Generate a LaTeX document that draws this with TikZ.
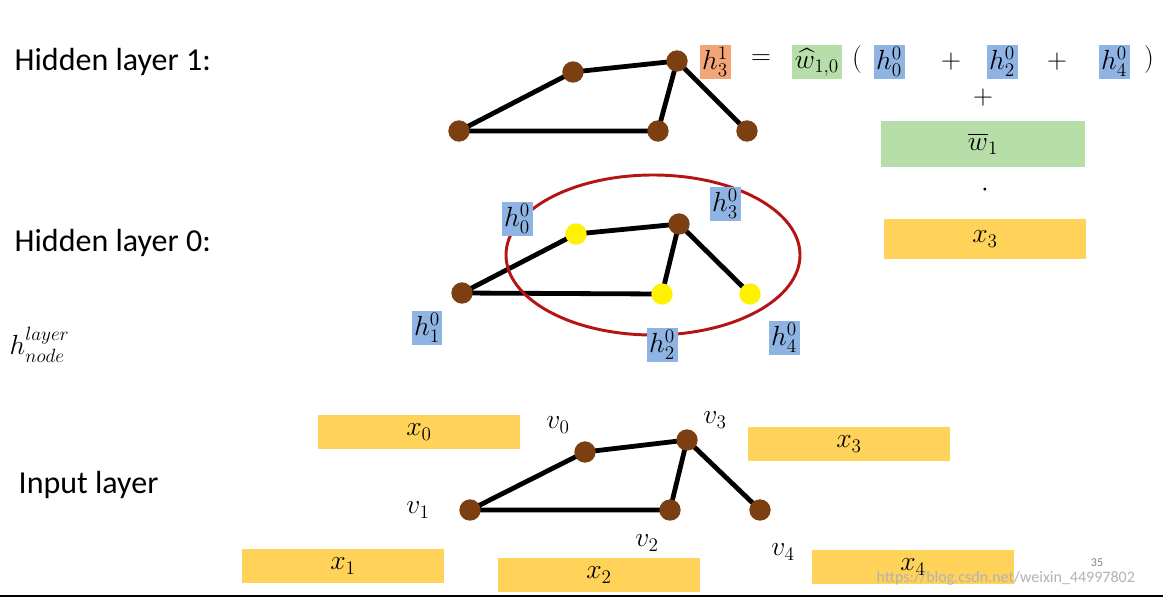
\documentclass[tikz,border=0pt]{standalone}
\usepackage{fontspec}
\setmainfont{Carlito}
\usepackage{amsmath}
\definecolor{nbrown}{RGB}{123,63,18}
\definecolor{ered}{RGB}{180,20,20}
\definecolor{bbox}{RGB}{143,180,227}
\definecolor{obox}{RGB}{244,165,120}
\definecolor{ybox}{RGB}{255,210,90}
\definecolor{gbox}{RGB}{183,221,168}
\begin{document}
\begin{tikzpicture}[x=0.75pt,y=-0.75pt,
  br/.style={circle,fill=nbrown,minimum size=16pt,inner sep=0pt},
  yl/.style={circle,fill=yellow,minimum size=16pt,inner sep=0pt},
  ed/.style={line width=3.6pt},
  bl/.style={fill=bbox,inner sep=2pt,font=\fontsize{22}{24}\selectfont},
  lbl/.style={font=\fontsize{24}{28}\selectfont,anchor=west},
  mt/.style={font=\fontsize{22}{24}\selectfont},
  yb/.style={fill=ybox,minimum width=152pt,minimum height=26pt,font=\fontsize{22}{24}\selectfont},
  gb/.style={fill=gbox}]
\useasboundingbox (0,0) rectangle (1163,597);
\fill[white] (0,0) rectangle (1163,597);
% labels
\node[lbl] (l1) at (10,62) {Hidden layer 1:};
\node[lbl] (l0) at (10,243) {Hidden layer 0:};
\node[lbl] (li) at (14,485) {Input layer};
\node[mt,anchor=west] (lh) at (5,345) {$h_{node}^{layer}$};
% layer 1
\coordinate (a0) at (573,72); \coordinate (a3) at (677,61); \coordinate (a1) at (459,131);
\coordinate (a2) at (658,131); \coordinate (a4) at (747,131);
\draw[ed] (a1)--(a0) (a0)--(a3) (a3)--(a2) (a3)--(a4) (a1)--(a2);
\node[br] (m0) at (a0) {}; \node[br] (m3) at (a3) {}; \node[br] (m1) at (a1) {};
\node[br] (m2) at (a2) {}; \node[br] (m4) at (a4) {};
% layer 0
\coordinate (b0) at (576,234); \coordinate (b3) at (679,224); \coordinate (b1) at (462,293);
\coordinate (b2) at (662,294); \coordinate (b4) at (750,294);
\draw[ed] (b1)--(b0) (b0)--(b3) (b3)--(b2) (b3)--(b4) (b1)--(b2);
\node[yl] (n0) at (b0) {}; \node[br] (n3) at (b3) {}; \node[br] (n1) at (b1) {};
\node[yl] (n2) at (b2) {}; \node[yl] (n4) at (b4) {};
\draw[line width=2.2pt,ered] (653,255) ellipse [x radius=147, y radius=80];
\node[bl] (h0) at (517,219) {$h_0^0$};
\node[bl] (h3) at (725,204) {$h_3^0$};
\node[bl] (h1) at (427,328) {$h_1^0$};
\node[bl] (h2) at (662,345) {$h_2^0$};
\node[bl] (h4) at (784,338) {$h_4^0$};
% input
\coordinate (c0) at (585,452); \coordinate (c3) at (687,440); \coordinate (c1) at (470,510);
\coordinate (c2) at (670,510); \coordinate (c4) at (760,510);
\draw[ed] (c1)--(c0) (c0)--(c3) (c3)--(c2) (c3)--(c4) (c1)--(c2);
\node[br] (v0) at (c0) {}; \node[br] (v3) at (c3) {}; \node[br] (v1) at (c1) {};
\node[br] (v2) at (c2) {}; \node[br] (v4) at (c4) {};
\node[mt] (t0) at (558,425) {$v_0$};
\node[mt] (t3) at (715,420) {$v_3$};
\node[mt] (t1) at (418,510) {$v_1$};
\node[mt] (t2) at (647,543) {$v_2$};
\node[mt] (t4) at (783,552) {$v_4$};
\node[yb] (x0) at (419,432) {$x_0$};
\node[yb] (x3) at (849,444) {$x_3$};
\node[yb] (x1) at (343,566) {$x_1$};
\node[yb] (x2) at (599,575) {$x_2$};
\node[yb] (x4) at (913,567) {$x_4$};
% formula
\node[bl,fill=obox] (f1) at (715,62) {$h_3^1$};
\node[mt] (eq) at (761,60) {$=$};
\node[bl,gb] (f2) at (817,62) {$\widehat{w}_{1,0}$};
\node[mt] (lp) at (857,60) {$($};
\node[bl] (f3) at (889,62) {$h_0^0$};
\node[mt] (p1) at (951,62) {$+$};
\node[bl] (f4) at (1002,62) {$h_2^0$};
\node[mt] (p2) at (1057,62) {$+$};
\node[bl] (f5) at (1114,62) {$h_4^0$};
\node[mt] (rp) at (1149,60) {$)$};
\node[mt] (p3) at (983,98) {$+$};
\node[gb,minimum width=153pt,minimum height=34pt,font=\fontsize{22}{24}\selectfont] (w1) at (983,144) {$\overline{w}_1$};
\node[mt] (dt) at (985,190) {$\cdot$};
\node[yb,minimum height=30pt] (x3b) at (985,239) {$x_3$};
\node[font=\fontsize{9}{10}\selectfont,gray] (pg) at (1097,563) {35};
\node[font=\fontsize{12}{14}\selectfont,gray!60,anchor=west] (wm) at (872,578) {https://blog.csdn.net/weixin\_44997802};
\draw[line width=1.5pt] (0,596) -- (1163,596);
\end{tikzpicture}
\end{document}
